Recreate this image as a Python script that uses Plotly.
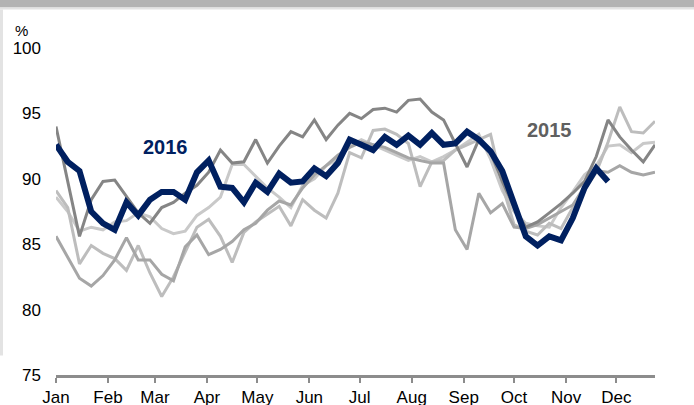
import plotly.graph_objects as go

# ---------------- data ----------------
week_days = [7 * i for i in range(52)]           # weekly observations (day of year)
month_ticks = [0, 31, 59, 90, 120, 151, 181, 212, 243, 273, 304, 334]
month_labels = ["Jan", "Feb", "Mar", "Apr", "May", "Jun",
                "Jul", "Aug", "Sep", "Oct", "Nov", "Dec"]
y_ticks = [75, 80, 85, 90, 95, 100]

hist_a = [89.1, 87.8, 83.5, 84.9, 84.3, 83.9, 83.0, 84.9, 82.8, 81.0,
          82.5, 84.4, 86.3, 86.9, 85.6, 83.6, 85.9, 86.7, 87.3, 87.9,
          86.4, 88.4, 87.6, 87.0, 88.9, 92.0, 91.6, 93.7, 93.8, 93.4,
          92.7, 89.4, 91.3, 91.4, 92.2, 92.6, 93.0, 93.4, 89.5, 86.5,
          86.0, 85.7, 86.6, 86.2, 87.8, 89.2, 90.5, 92.8, 95.5, 93.6,
          93.5, 94.4]
hist_b = [85.6, 84.0, 82.4, 81.8, 82.6, 83.8, 85.5, 83.8, 83.8, 82.7,
          82.2, 84.8, 85.7, 84.2, 84.6, 85.2, 86.1, 86.6, 87.6, 88.3,
          88.0, 89.3, 90.3, 91.0, 91.8, 92.4, 92.8, 92.6, 92.4, 92.0,
          91.6, 91.4, 91.2, 91.2, 86.1, 84.6, 88.9, 87.4, 88.1, 86.3,
          86.2, 86.5, 87.0, 87.5, 88.0, 89.4, 90.6, 90.5, 91.0, 90.5,
          90.3, 90.5]
hist_d = [88.6, 87.5, 86.0, 86.3, 86.1, 86.7, 86.8, 87.4, 87.1, 86.2,
          85.8, 86.0, 87.2, 87.8, 88.6, 91.1, 91.1, 90.2, 89.3, 88.6,
          87.8, 89.5, 90.0, 91.0, 91.5, 92.5, 93.0, 92.6, 92.2, 91.8,
          91.4, 91.7, 91.3, 91.7, 92.2, 92.8, 93.4, 91.5, 89.1, 87.5,
          86.6, 86.4, 86.3, 87.8, 89.0, 90.3, 91.0, 92.5, 92.6, 92.0,
          92.7, 92.8]
y2015 = [94.0, 89.8, 85.6, 88.4, 89.8, 89.9, 88.6, 87.4, 86.6, 87.8,
         88.2, 88.9, 89.5, 90.5, 92.2, 91.2, 91.3, 93.0, 91.2, 92.5,
         93.6, 93.2, 94.5, 93.0, 94.1, 95.0, 94.6, 95.3, 95.4, 95.1,
         96.0, 96.1, 95.1, 94.5, 92.7, 90.9, 93.0, 92.0, 89.8, 87.8,
         86.3, 86.7, 87.4, 88.1, 88.9, 89.8, 91.7, 94.5, 93.2, 92.2,
         91.3, 92.6]
y2016 = [92.6, 91.3, 90.6, 87.5, 86.6, 86.1, 88.2, 87.2, 88.4, 89.0,
         89.0, 88.4, 90.5, 91.4, 89.4, 89.3, 88.2, 89.7, 89.0, 90.4,
         89.7, 89.8, 90.8, 90.2, 91.2, 93.0, 92.6, 92.2, 93.2, 92.6,
         93.3, 92.6, 93.5, 92.6, 92.7, 93.6, 93.0, 92.1, 90.6, 88.0,
         85.6, 84.9, 85.6, 85.3, 87.0, 89.3, 90.8, 89.8]

# ---------------- figure ----------------
FONT = "Arial, Liberation Sans, sans-serif"
fig = go.Figure()

for vals, col in [(hist_d, "#c9c9c9"), (hist_a, "#bdbdbd"), (hist_b, "#a6a6a6")]:
    fig.add_trace(go.Scatter(x=week_days[:len(vals)], y=vals, mode="lines",
                             line=dict(color=col, width=3), hoverinfo="skip"))

fig.add_trace(go.Scatter(x=week_days[:len(y2015)], y=y2015, mode="lines",
                         line=dict(color="#858585", width=3), hoverinfo="skip"))
fig.add_trace(go.Scatter(x=week_days[:len(y2016)], y=y2016, mode="lines",
                         line=dict(color="#002060", width=6), hoverinfo="skip"))

fig.add_annotation(x=65, y=92.45, text="<b>2016</b>", showarrow=False,
                   font=dict(family=FONT, size=20, color="#002060"))
fig.add_annotation(x=294, y=93.7, text="<b>2015</b>", showarrow=False,
                   font=dict(family=FONT, size=20, color="#606060"))
fig.add_annotation(x=-0.057, y=1.055, xref="paper", yref="paper", text="%",
                   xanchor="center", yanchor="middle",
                   showarrow=False, font=dict(family=FONT, size=15, color="#000000"))

# frame decorations (top band and left strip)
fig.add_shape(type="rect", xref="paper", yref="paper", x0=-0.1, x1=1.1,
              y0=1.1235, y1=1.16, fillcolor="#b3b3b3", line_width=0, layer="below")
fig.add_shape(type="rect", xref="paper", yref="paper", x0=-0.1, x1=1.1,
              y0=1.118, y1=1.1235, fillcolor="#e3e3e3", line_width=0, layer="below")
fig.add_shape(type="rect", xref="paper", yref="paper", x0=-0.1, x1=-0.0885,
              y0=0.06, y1=1.118, fillcolor="#e3e3e3", line_width=0, layer="below")

fig.update_layout(
    width=694, height=405,
    margin=dict(l=56, r=39, t=48, b=30, autoexpand=False),
    paper_bgcolor="white", plot_bgcolor="white",
    showlegend=False,
    font=dict(family=FONT, size=17, color="#000000"),
)
fig.update_xaxes(range=[0, 357], tickvals=month_ticks, ticktext=month_labels,
                 showgrid=False, zeroline=False, showline=True, linewidth=3,
                 linecolor="#8c8c8c", ticks="outside", ticklen=5, tickwidth=2,
                 tickcolor="#8c8c8c", tickfont=dict(size=17, family=FONT),
                 ticklabelstandoff=0, automargin=False)
fig.update_yaxes(range=[75, 100], tickvals=y_ticks, showgrid=False, zeroline=False,
                 showline=False, ticks="", tickfont=dict(size=17, family=FONT),
                 ticklabelstandoff=14, automargin=False)

fig.write_html("out.html", config={"displayModeBar": False},
               post_script="document.body.style.margin='0px';document.body.style.overflow='hidden';")
